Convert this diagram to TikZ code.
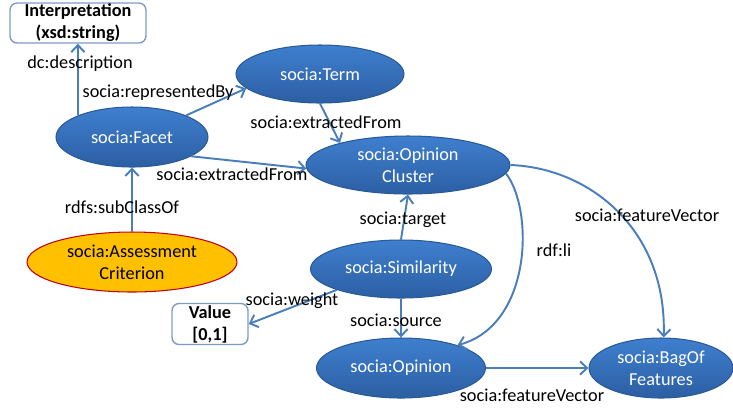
\documentclass[tikz,border=0pt]{standalone}
\usepackage{fontspec}
\setmainfont{Carlito}
\usetikzlibrary{arrows.meta,shapes.geometric}
\definecolor{ovaltop}{HTML}{3F7FCF}
\definecolor{ovalbot}{HTML}{2C5FA3}
\definecolor{ovalline}{HTML}{2A5A96}
\definecolor{linkblue}{HTML}{4A7EBB}
\definecolor{boxline}{HTML}{7C9CC6}
\definecolor{critfill}{HTML}{FFC000}
\definecolor{critline}{HTML}{C0001A}

\begin{document}
\begin{tikzpicture}[x=0.02cm,y=-0.02cm,
    font=\fontsize{10.4}{12.5}\selectfont,
    oval/.style={ellipse,draw=ovalline,line width=0.6pt,top color=ovaltop,bottom color=ovalbot,
        text=white,align=center,inner sep=0pt},
    crit/.style={ellipse,draw=critline,line width=0.6pt,fill=critfill,align=center,inner sep=0pt},
    lit/.style={rounded corners=4pt,draw=boxline,line width=0.8pt,fill=white,align=center,
        font=\fontsize{10.4}{12.5}\selectfont\bfseries,inner sep=0pt},
    link/.style={draw=linkblue,line width=1.1pt,-{Straight Barb[length=4pt,width=7.5pt]}},
    lbl/.style={inner sep=0pt}]
\useasboundingbox (0,0) rectangle (733,407);
% literals
\node[lit,minimum width=2.72cm,minimum height=0.8cm] (interp) at (78,23) {Interpretation\\(xsd:string)};
\node[lit,minimum width=1.52cm,minimum height=0.82cm] (val) at (210,324) {Value\\{[0,1]}};
% classes
\node[oval,minimum width=3.36cm,minimum height=1.16cm] (term) at (320,74) {socia:Term};
\node[oval,minimum width=3.04cm,minimum height=1.2cm] (facet) at (132,137) {socia:Facet};
\node[oval,minimum width=4.08cm,minimum height=1.16cm] (oc) at (408,165) {socia:Opinion\\Cluster};
\node[crit,minimum width=4.2cm,minimum height=1.2cm] (ac) at (132,262) {socia:Assessment\\Criterion};
\node[oval,minimum width=3.62cm,minimum height=1.16cm] (sim) at (401,269) {socia:Similarity};
\node[oval,minimum width=3.38cm,minimum height=1.2cm] (op) at (401,368) {socia:Opinion};
\node[oval,minimum width=2.88cm,minimum height=1.2cm] (bag) at (661,368) {socia:BagOf\\Features};
% properties
\draw[link] (facet.north west) -- (facet.north west |- interp.south);
\draw[link] (facet.north east) -- (term.191);
\draw[link] (term.south) -- (oc.162);
\draw[link] (facet.-18) -- (oc.182);
\draw[link] (ac.north) -- (facet.south);
\draw[link] (sim.north) -- (oc.south);
\draw[link] (sim.south) -- (op.north);
\draw[link] (sim.198) -- (val.east);
\draw[link] (oc.-5) .. controls (534,210) and (532,325) .. (op.22);
\draw[link] (oc.east) .. controls (590,168) and (667,230) .. (bag.85);
\draw[link] (op.east) -- (bag.west);
% property labels
\node[lbl] (l-desc) at (80,64) {dc:description};
\node[lbl] (l-repr) at (158,93) {socia:representedBy};
\node[lbl] (l-extr1) at (326,122) {socia:extractedFrom};
\node[lbl] (l-extr2) at (232,174) {socia:extractedFrom};
\node[lbl] (l-sub) at (122,207) {rdfs:subClassOf};
\node[lbl] (l-target) at (403,220) {socia:target};
\node[lbl] (l-weight) at (292,301) {socia:weight};
\node[lbl] (l-source) at (396,320) {socia:source};
\node[lbl] (l-li) at (554,250) {rdf:li};
\node[lbl] (l-fv1) at (647,215) {socia:featureVector};
\node[lbl] (l-fv2) at (532,395) {socia:featureVector};
\end{tikzpicture}
\end{document}
